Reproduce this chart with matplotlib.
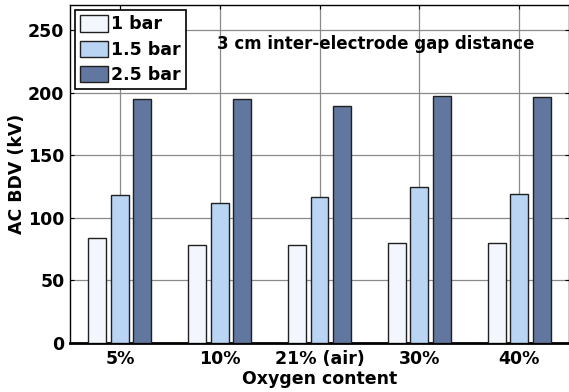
import matplotlib
matplotlib.use("Agg")
import matplotlib.pyplot as plt
import numpy as np

categories = ["5%", "10%", "21% (air)", "30%", "40%"]
series_names = ["1 bar", "1.5 bar", "2.5 bar"]
v_1bar = [84, 78.5, 78.5, 80, 80]
v_15bar = [118.5, 112, 117, 124.5, 119]
v_25bar = [195, 195, 189, 197.5, 196.5]
yticks = [0, 50, 100, 150, 200, 250]

colors = ["#F3F7FD", "#B9D5F3", "#6277A0"]

plt.rcParams['font.family'] = ['DejaVu Sans']
plt.rcParams['font.weight'] = 'bold'
FS = 12.5

fig = plt.figure(figsize=(5.69, 3.92), dpi=100)
ax = fig.add_axes([70/569, 1-343/392, 499/569, (343-5)/392])

x = np.arange(1, len(categories)+1)
w = 0.18
off = 0.225
for i, (vals, name) in enumerate(zip([v_1bar, v_15bar, v_25bar], series_names)):
    ax.bar(x + (i-1)*off, vals, width=w, color=colors[i], edgecolor="#202020",
           linewidth=1.0, label=name, zorder=3)

ax.set_xlim(0.5, 5.5)
ax.set_ylim(0, 270)
ax.set_xticks(x)
ax.set_xticklabels(categories, fontsize=FS, fontweight='bold')
ax.set_yticks(yticks)
ax.set_yticklabels([str(t) for t in yticks], fontsize=FS, fontweight='bold')
ax.grid(True, color="#8a8a8a", linewidth=0.9, zorder=0)
ax.set_axisbelow(True)
ax.tick_params(direction='in', top=True, right=True, length=3, width=0.8)
ax.tick_params(axis='x', pad=5)
ax.tick_params(axis='y', pad=4)
for s in ['left', 'top', 'right']:
    ax.spines[s].set_linewidth(1.0)
ax.spines['bottom'].set_linewidth(2.0)

ax.set_xlabel("Oxygen content", fontsize=FS, fontweight='bold')
ax.xaxis.set_label_coords(0.5, -0.08)
ax.set_ylabel("AC BDV (kV)", fontsize=FS, fontweight='bold')
ax.yaxis.set_label_coords(-0.088, 0.5)

ax.text(0.612, 0.885, "3 cm inter-electrode gap distance", transform=ax.transAxes,
        ha='center', va='center', fontsize=12, fontweight='bold', zorder=5)

leg = ax.legend(loc='upper left', bbox_to_anchor=(0.0, 1.0), fontsize=FS,
                frameon=True, fancybox=False, edgecolor='black', framealpha=1,
                handlelength=1.6, handleheight=1.05, handletextpad=0.15,
                borderpad=0.3, labelspacing=0.42, borderaxespad=0.3)
leg.get_frame().set_linewidth(1.2)
leg.set_zorder(6)

fig.savefig("out.png", dpi=100)
